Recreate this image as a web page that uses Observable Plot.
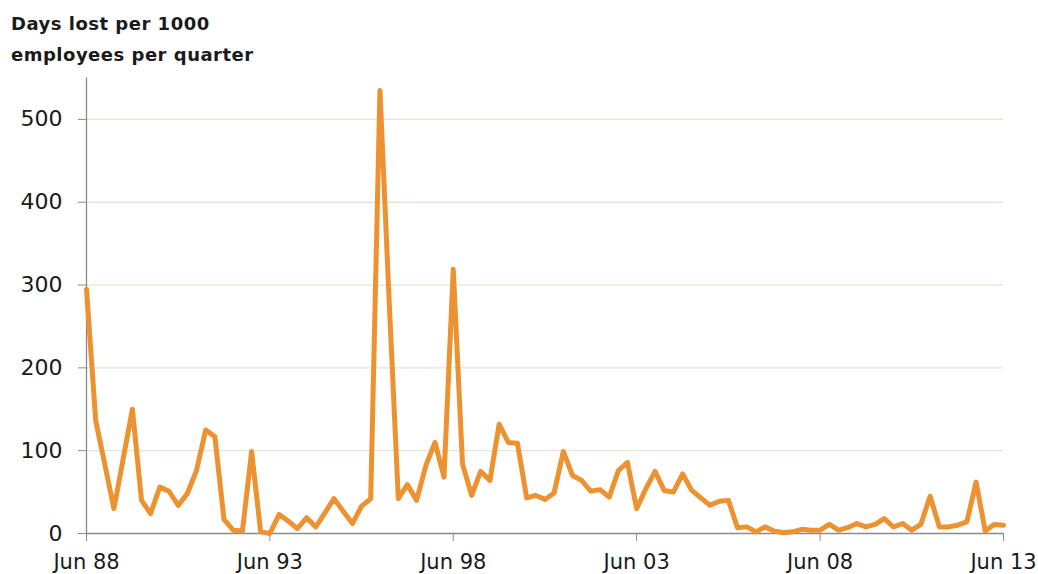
<!DOCTYPE html>
<html>
<head>
<meta charset="utf-8">
<script src="https://cdn.jsdelivr.net/npm/d3@7"></script>
<script src="https://cdn.jsdelivr.net/npm/@observablehq/plot@0.6"></script>
<style>
  html, body { margin: 0; padding: 0; background: #fff; }
  #wrap { position: relative; width: 1038px; height: 574px; overflow: hidden; }
  #title {
    position: absolute; left: 11px; top: 8px;
    font-family: "DejaVu Sans", sans-serif; font-weight: bold;
    font-size: 18px; line-height: 31px; letter-spacing: 0.5px; color: #1a1a1a;
  }
</style>
</head>
<body>
<div id="wrap">
  <div id="chart"></div>
  <div id="title">Days lost per 1000<br>employees per quarter</div>
</div>
<script>
// Quarterly series starting June 1988, ending June 2013
const startYear = 1988;
const startMonth = 5; // June (0-based)
const values = [
  295, 136, 83, 30, 90, 150, 40, 24, 56, 51,
  34, 48, 76, 125, 117, 17, 4, 3, 99, 2,
  0, 23, 15, 6, 19, 8, 25, 42, 27, 12,
  33, 42, 535, 280, 42, 59, 40, 82, 110, 68,
  319, 84, 46, 75, 64, 132, 110, 109, 43, 46,
  41, 49, 99, 70, 64, 51, 53, 44, 76, 86,
  30, 54, 75, 52, 50, 72, 52, 43, 34, 39,
  40, 7, 8, 2, 8, 3, 1, 2, 5, 4,
  4, 11, 4, 7, 12, 8, 11, 18, 8, 12,
  4, 11, 45, 8, 8, 10, 14, 62, 3, 11,
  10
];
const tickYears = [1988, 1993, 1998, 2003, 2008, 2013];
const tickLabels = ["Jun 88", "Jun 93", "Jun 98", "Jun 03", "Jun 08", "Jun 13"];
const yTicks = [0, 100, 200, 300, 400, 500];
const gridValues = [100, 200, 300, 400, 500];

const start = new Date(Date.UTC(startYear, startMonth, 1));
const data = values.map((v, i) => ({ date: d3.utcMonth.offset(start, 3 * i), value: v }));
const tickDates = tickYears.map(y => new Date(Date.UTC(y, startMonth, 1)));
const labelOf = new Map(tickDates.map((d, i) => [+d, tickLabels[i]]));

const chart = Plot.plot({
  width: 1038,
  height: 574,
  marginLeft: 86,
  marginRight: 35,
  marginTop: 77.5,
  marginBottom: 41,
  style: { fontFamily: "DejaVu Sans, sans-serif", color: "#1a1a1a", background: "#fff" },
  x: { type: "utc", domain: [tickDates[0], tickDates[tickDates.length - 1]] },
  y: { domain: [0, 550] },
  marks: [
    Plot.ruleY(gridValues, { stroke: "#e7e3d6", strokeWidth: 1.3 }),
    Plot.axisY({ ticks: yTicks, tickSize: 8, tickPadding: 16, fontSize: 22, stroke: "#8a8a8a", strokeOpacity: 1, label: null }),
    Plot.axisX({ ticks: tickDates, tickFormat: d => labelOf.get(+d), tickSize: 8, tickPadding: 13, fontSize: 21, stroke: "#8a8a8a", strokeOpacity: 1, label: null }),
    Plot.ruleX([tickDates[0]], { y1: 0, y2: 550, stroke: "#8a8a8a", strokeWidth: 1.3 }),
    Plot.ruleY([0], { stroke: "#8a8a8a", strokeWidth: 1.3 }),
    Plot.line(data, { x: "date", y: "value", stroke: "#ED9231", strokeWidth: 5, strokeLinejoin: "round", strokeLinecap: "round" })
  ]
});
document.getElementById("chart").appendChild(chart);
</script>
</body>
</html>
